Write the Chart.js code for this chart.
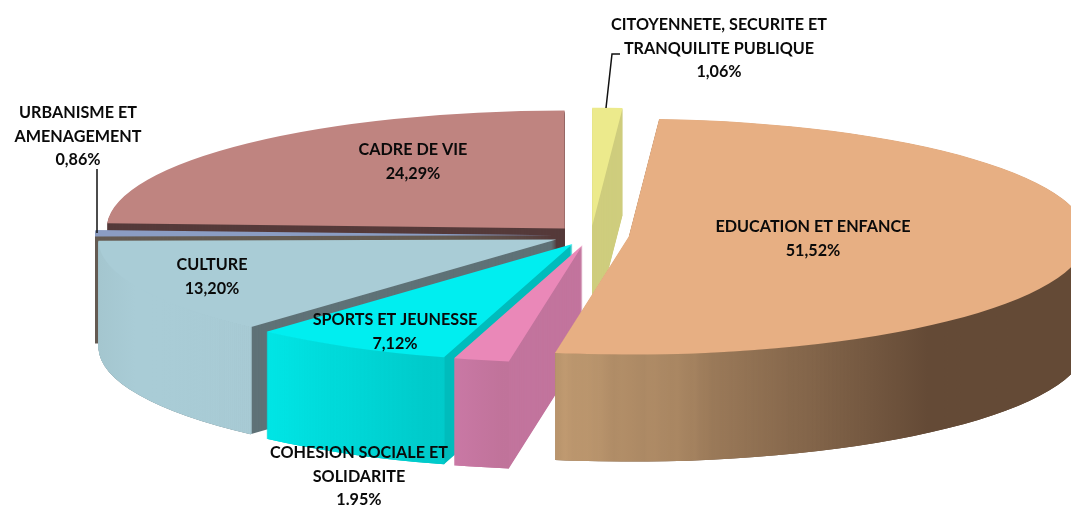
<!DOCTYPE html>
<html><head><meta charset="utf-8">
<style>html,body{margin:0;padding:0;background:#fff}#w{width:1071px;height:506px;position:relative}</style>
<script src="https://cdn.jsdelivr.net/npm/chart.js@4"></script>
</head><body><div id="w"><canvas id="c" width="1071" height="506"></canvas></div>
<script>
const categories = ['EDUCATION ET ENFANCE','COHESION SOCIALE ET SOLIDARITE','SPORTS ET JEUNESSE','CULTURE','URBANISME ET AMENAGEMENT','CADRE DE VIE','CITOYENNETE, SECURITE ET TRANQUILITE PUBLIQUE'];
const values = [51.52,1.95,7.12,13.20,0.86,24.29,1.06];
const valueLabels = ['51,52%','1.95%','7,12%','13,20%','0,86%','24,29%','1,06%'];
const topColors = ['#e7af83','#ea88b8','#00eef0','#a9ccd6','#8b9dc3','#bf8480','#ecea8c'];
const wallColors = ['#654b37','#c2749d','#00bcbc','#5f7277','#655b52','#553a3a','#cfcd7e'];
const rimGradients = [
  [553,890,['#c29c72','#644a36']],
  [453,510,['#cc7aa8','#c0739a']],
  [266,443,['#00eaea','#00cccc']],
  [97,170,['#9fc0c8','#a9ccd6']],
  null,null,null
];
const labelLines = [
  [['EDUCATION ET ENFANCE'],813,227],
  [['COHESION SOCIALE ET','SOLIDARITE'],359,453],
  [['SPORTS ET JEUNESSE'],395,320],
  [['CULTURE'],212,265],
  [['URBANISME ET','AMENAGEMENT'],78,113],
  [['CADRE DE VIE'],413,150],
  [['CITOYENNETE, SECURITE ET','TRANQUILITE PUBLIQUE'],719,25]
];
const drawOrder = [5,6,4,3,2,1,0];
const TILT = 0.2576, DEPTH = 107, EXPLODE = 38, LINE = 23.3;

function drawEl(ctx, el, fill, dy, rimOnly){
  const a = el.outerRadius, mid = (el.startAngle + el.endAngle)/2;
  ctx.save();
  ctx.translate(el.x, el.y + dy);
  ctx.scale(1, TILT);
  ctx.translate(-el.x, -el.y);
  ctx.translate(Math.cos(mid)*EXPLODE, Math.sin(mid)*EXPLODE);
  const o = el.options, inner = el.innerRadius;
  el.options = Object.assign({}, o, {backgroundColor: fill, borderWidth: 0, offset: 0});
  if (rimOnly) el.innerRadius = a - 3;
  el.draw(ctx);
  el.options = o; el.innerRadius = inner;
  ctx.restore();
}

const pie3d = {
  id: 'pie3d',
  beforeDatasetDraw(chart){
    const ctx = chart.ctx, els = chart.getDatasetMeta(0).data;
    for (const i of drawOrder){
      const el = els[i];
      for (let d = DEPTH; d >= 1; d--) drawEl(ctx, el, wallColors[i], d, false);
      const g = rimGradients[i];
      if (g){
        const grad = ctx.createLinearGradient(g[0],0,g[1],0);
        g[2].forEach((c,k)=>grad.addColorStop(k/(g[2].length-1),c));
        for (let d = DEPTH; d >= 0.5; d -= 0.5) drawEl(ctx, el, grad, d, true);
      }
      drawEl(ctx, el, topColors[i], 0, false);
    }
    return false;
  },
  afterDatasetsDraw(chart){
    const ctx = chart.ctx;
    ctx.save();
    ctx.strokeStyle = '#111'; ctx.lineWidth = 1.5;
    ctx.beginPath(); ctx.moveTo(97,233); ctx.lineTo(97,169); ctx.stroke();
    ctx.beginPath(); ctx.moveTo(606,108); ctx.lineTo(612,54); ctx.lineTo(620,54); ctx.stroke();
    ctx.fillStyle = '#0a0a0a'; ctx.textAlign = 'center'; ctx.textBaseline = 'middle';
    ctx.font = 'bold 16.2px Lato';
    labelLines.forEach((l,i)=>{
      const lines = l[0].concat([valueLabels[i]]);
      lines.forEach((t,k)=>ctx.fillText(t, l[1], l[2] + k*LINE));
    });
    ctx.restore();
  }
};

new Chart(document.getElementById('c'), {
  type: 'pie',
  data: { labels: categories, datasets: [{ data: values, backgroundColor: topColors, borderWidth: 0 }] },
  options: {
    responsive: false, animation: false, events: [],
    rotation: 3.8, radius: 458,
    layout: { padding: { left: 111, bottom: 35 } },
    plugins: { legend: {display:false}, tooltip: {enabled:false}, title:{display:false} }
  },
  plugins: [pie3d]
});
</script></body></html>
